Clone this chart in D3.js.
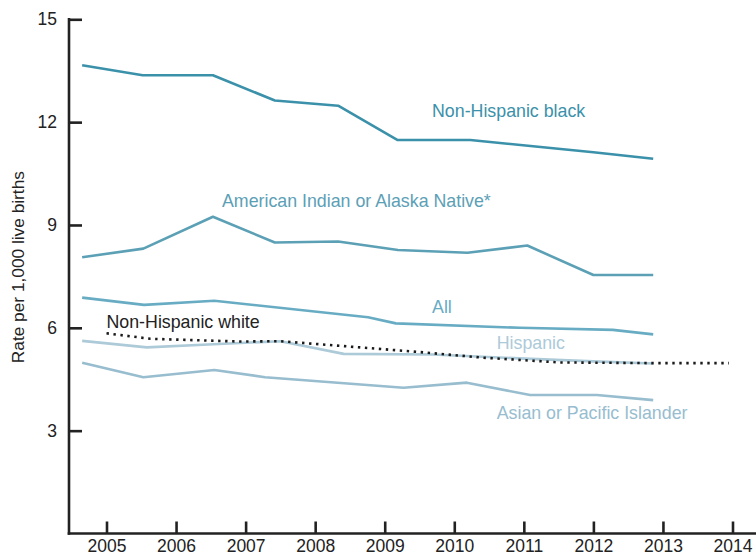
<!DOCTYPE html>
<html>
<head>
<meta charset="utf-8">
<script src="https://cdn.jsdelivr.net/npm/d3@7"></script>
<style>
	body { margin: 0; background: #fff; }
	svg { display: block; font-family: "Liberation Sans", Arial, sans-serif; }
	.axis text { font-size: 17.5px; fill: #222; }
	.axis line, .axis path { stroke: #222; }
	.line { fill: none; stroke-width: 2.6; stroke-linejoin: round; }
	.lbl { font-size: 17.8px; }
</style>
</head>
<body>
<div id="chart"></div>
<script>
//values; the x positions are fractional years as drawn
var yTicks = [3, 6, 9, 12, 15];
var xTicks = [2005, 2006, 2007, 2008, 2009, 2010, 2011, 2012, 2013, 2014];

var black_x = [2004.65, 2005.52, 2006.53, 2007.42, 2008.33, 2009.18, 2010.23, 2011.06, 2012.0, 2012.86];
var black_y = [13.66, 13.37, 13.37, 12.63, 12.48, 11.48, 11.48, 11.31, 11.12, 10.93];

var aian_x = [2004.65, 2005.53, 2006.53, 2007.42, 2008.33, 2009.19, 2010.19, 2011.05, 2012.0, 2012.86];
var aian_y = [8.06, 8.31, 9.24, 8.49, 8.52, 8.27, 8.19, 8.40, 7.54, 7.54];

var all_x = [2004.65, 2005.54, 2006.55, 2008.76, 2009.16, 2010.94, 2012.28, 2012.86];
var all_y = [6.88, 6.67, 6.79, 6.31, 6.13, 6.0, 5.94, 5.81];

var white_x = [2005.0, 2005.63, 2006.92, 2007.5, 2009.46, 2010.41, 2011.52, 2012.86, 2013.95];
var white_y = [5.84, 5.68, 5.60, 5.61, 5.30, 5.13, 4.99, 4.97, 4.97];

var hisp_x = [2004.65, 2005.58, 2006.54, 2007.5, 2008.41, 2009.69, 2011.02, 2012.0, 2012.86];
var hisp_y = [5.62, 5.43, 5.52, 5.61, 5.24, 5.22, 5.10, 5.02, 4.96];

var asian_x = [2004.65, 2005.53, 2006.55, 2007.28, 2009.27, 2010.18, 2011.09, 2012.05, 2012.86];
var asian_y = [4.98, 4.56, 4.77, 4.56, 4.25, 4.40, 4.04, 4.04, 3.89];

var series = [
	{name: "Non-Hispanic black", xs: black_x, ys: black_y, color: "#3b91aa", dash: null, lx: 2009.68, ly: 12.15},
	{name: "American Indian or Alaska Native*", xs: aian_x, ys: aian_y, color: "#5ca0b6", dash: null, lx: 2006.66, ly: 9.52},
	{name: "All", xs: all_x, ys: all_y, color: "#68acc3", dash: null, lx: 2009.68, ly: 6.43},
	{name: "Hispanic", xs: hisp_x, ys: hisp_y, color: "#adcad8", dash: null, lx: 2010.61, ly: 5.38},
	{name: "Asian or Pacific Islander", xs: asian_x, ys: asian_y, color: "#97bdcf", dash: null, lx: 2010.61, ly: 3.34},
	{name: "Non-Hispanic white", xs: white_x, ys: white_y, color: "#1a1a1a", dash: "2.4,4.6", lx: 2005.0, ly: 5.99}
];

var W = 756, H = 554;
var svg = d3.select("#chart").append("svg")
	.attr("width", W)
	.attr("height", H);

var x = d3.scaleLinear().domain([2005, 2014]).range([106.5, 732.5]);
var y = d3.scaleLinear().domain([0, 15]).range([533.5, 19.3]);
var axisX0 = 69;

// y axis
var gy = svg.append("g")
	.attr("class", "axis")
	.attr("transform", "translate(" + axisX0 + ",0)")
	.call(d3.axisLeft(y).tickValues(yTicks).tickSize(-13).tickSizeOuter(0).tickPadding(12));
gy.select(".domain").remove();
gy.selectAll(".tick line").attr("stroke-width", 2.6);
gy.append("line")
	.attr("x1", 0).attr("x2", 0)
	.attr("y1", y(15) - 1.3).attr("y2", y(0) + 1.3)
	.attr("stroke", "#222").attr("stroke-width", 2.6);

// x axis
var gx = svg.append("g")
	.attr("class", "axis")
	.attr("transform", "translate(0," + y(0) + ")")
	.call(d3.axisBottom(x).tickValues(xTicks).tickFormat(d3.format("d")).tickSize(-12).tickSizeOuter(0).tickPadding(6));
gx.select(".domain").remove();
gx.selectAll(".tick line").attr("stroke-width", 2.6);
gx.selectAll(".tick text").attr("font-size", "18px");
gx.append("line")
	.attr("x1", axisX0 - 1.3).attr("x2", W)
	.attr("y1", 0).attr("y2", 0)
	.attr("stroke", "#222").attr("stroke-width", 2.6);

svg.append("text")
	.attr("transform", "translate(24," + y(7.77) + ") rotate(-90)")
	.attr("text-anchor", "middle")
	.attr("font-size", "17.3px")
	.attr("fill", "#222")
	.text("Rate per 1,000 live births");

var line = d3.line()
	.x(function(d) { return x(d[0]); })
	.y(function(d) { return y(d[1]); });

series.forEach(function(s) {
	var pts = s.xs.map(function(v, i) { return [v, s.ys[i]]; });
	var p = svg.append("path")
		.datum(pts)
		.attr("class", "line")
		.attr("stroke", s.color)
		.attr("d", line);
	if (s.dash) {
		p.attr("stroke-dasharray", s.dash).attr("stroke-width", 2.6).attr("stroke-linejoin", "miter");
	}
	svg.append("text")
		.attr("class", "lbl")
		.attr("x", x(s.lx))
		.attr("y", y(s.ly))
		.attr("fill", s.color == "#1a1a1a" ? "#222" : s.color)
		.text(s.name);
});
</script>
</body>
</html>
